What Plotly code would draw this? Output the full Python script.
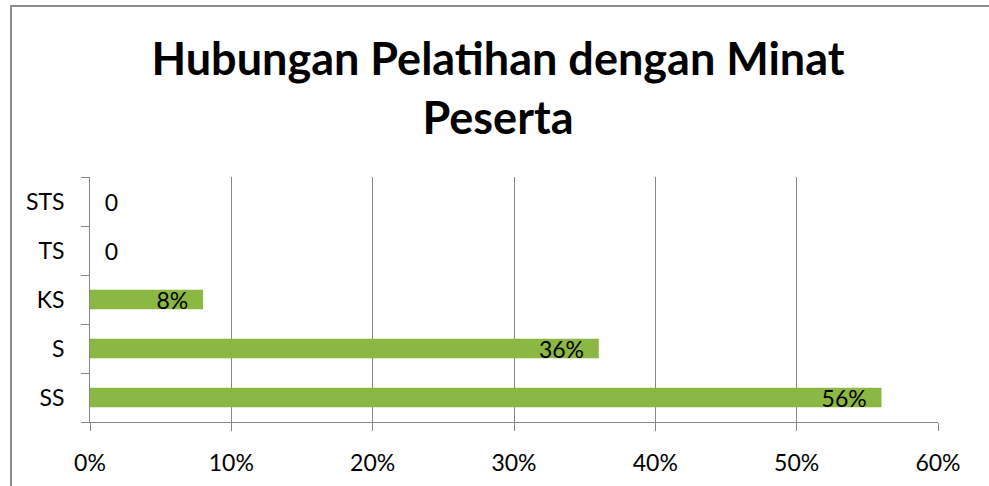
import plotly.graph_objects as go

categories = ["SS", "S", "KS", "TS", "STS"]
values = [0.56, 0.36, 0.08, 0.0, 0.0]
labels = ["56%", "36%", "8%", "0", "0"]
x_ticks = [0, 0.1, 0.2, 0.3, 0.4, 0.5, 0.6]
x_tick_labels = ["0%", "10%", "20%", "30%", "40%", "50%", "60%"]
title_text = "Hubungan Pelatihan dengan Minat<br>Peserta"

NBSP = "\u00a0"
text_pos = ["inside" if v > 0 else "outside" for v in values]
shown = [(t + NBSP * 2) if v > 0 else (NBSP * 2 + t) for t, v in zip(labels, values)]

FONT = "Lato, 'Noto Sans', sans-serif"
GRID = "#868686"

fig = go.Figure(
    go.Bar(
        y=categories,
        x=values,
        orientation="h",
        marker=dict(color="#8BB843", line=dict(width=0)),
        text=shown,
        textposition=text_pos,
        insidetextanchor="end",
        constraintext="none",
        textfont=dict(family=FONT, size=23, color="#000000"),
        cliponaxis=False,
        hoverinfo="skip",
    )
)

fig.update_layout(
    width=989,
    height=486,
    margin=dict(l=90, r=51, t=177, b=64, autoexpand=False),
    paper_bgcolor="white",
    plot_bgcolor="white",
    bargap=0.6,
    showlegend=False,
    title=dict(
        text=title_text,
        font=dict(family=FONT, size=45, color="#000000", weight="bold"),
        x=498 / 989,
        xanchor="center",
        xref="container",
        y=1 - 75 / 486,
        yanchor="top",
        yref="container",
    ),
    font=dict(family=FONT, size=23, color="#000000"),
)

fig.update_xaxes(
    range=[0, 0.6],
    tickvals=x_ticks,
    ticktext=x_tick_labels,
    showgrid=True,
    gridcolor=GRID,
    gridwidth=1,
    showline=True,
    linecolor=GRID,
    linewidth=1,
    ticks="outside",
    ticklen=8,
    tickcolor=GRID,
    ticklabelstandoff=12,
    zeroline=False,
    tickfont=dict(family=FONT, size=23, color="#000000"),
)

fig.update_yaxes(
    showgrid=False,
    showline=True,
    linecolor=GRID,
    linewidth=1,
    ticks="outside",
    tickson="boundaries",
    ticklen=8,
    tickcolor=GRID,
    ticklabelstandoff=20,
    tickfont=dict(family=FONT, size=23, color="#000000"),
)

# outer chart-area border
fig.add_shape(
    type="rect",
    xref="paper",
    yref="paper",
    x0=(11 - 90) / 848,
    x1=(1000 - 90) / 848,
    y0=(422 - 500) / 245,
    y1=(422 - 6) / 245,
    line=dict(color="#8C8C8C", width=2),
    fillcolor="rgba(0,0,0,0)",
    layer="above",
)

fig.write_html(
    "out.html",
    config={"displayModeBar": False},
    post_script="document.body.style.margin='0';document.body.style.overflow='hidden';",
)
